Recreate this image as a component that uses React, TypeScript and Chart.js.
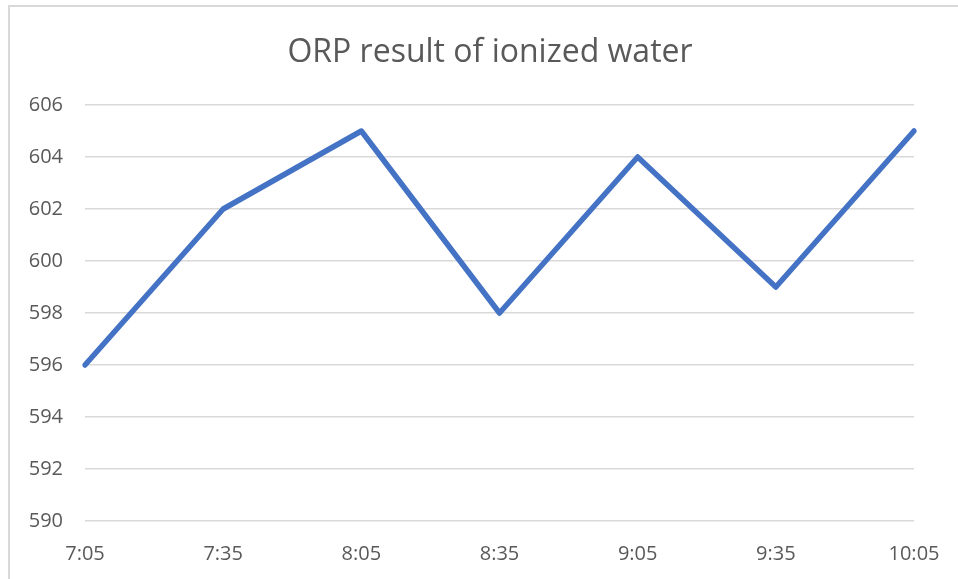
import React, { useEffect, useRef } from "react";
import { Chart, registerables } from "chart.js";

Chart.register(...registerables);

const TITLE = "ORP result of ionized water";
const categories = ["7:05", "7:35", "8:05", "8:35", "9:05", "9:35", "10:05"];
const orpValues = [596, 602, 605, 598, 604, 599, 605];
const yMin = 590;
const yMax = 606;
const yStep = 2;

const FONT = "'Open Sans', 'Liberation Sans', sans-serif";
const TEXT_COLOR = "#595959";

const framePlugin = {
  id: "frameAndTitle",
  beforeDraw(chart: any) {
    const ctx = chart.ctx;
    ctx.save();
    ctx.fillStyle = "#ffffff";
    ctx.fillRect(0, 0, chart.width, chart.height);
    ctx.strokeStyle = "#d9d9d9";
    ctx.lineWidth = 2;
    ctx.beginPath();
    ctx.moveTo(9, chart.height + 2);
    ctx.lineTo(9, 6);
    ctx.lineTo(chart.width + 2, 6);
    ctx.stroke();
    ctx.restore();
  },
  afterDraw(chart: any) {
    const ctx = chart.ctx;
    ctx.save();
    ctx.fillStyle = TEXT_COLOR;
    ctx.font = `32px ${FONT}`;
    ctx.textAlign = "center";
    ctx.textBaseline = "alphabetic";
    ctx.fillText(TITLE, 490, 62);
    ctx.restore();
  },
};

export default function App() {
  const ref = useRef<HTMLCanvasElement>(null);
  useEffect(() => {
    document.body.style.margin = "0";
    const chart = new Chart(ref.current!, {
      type: "line",
      data: {
        labels: categories,
        datasets: [
          {
            label: "ORP",
            data: orpValues,
            borderColor: "#4472C4",
            borderWidth: 5.5,
            borderJoinStyle: "round",
            borderCapStyle: "round",
            pointRadius: 0,
            tension: 0,
            fill: false,
          },
        ],
      },
      options: {
        responsive: false,
        animation: false,
        layout: { padding: { left: 0, right: 44, top: 105, bottom: 0 } },
        plugins: {
          legend: { display: false },
          title: { display: false },
          tooltip: { enabled: false },
        },
        scales: {
          x: {
            offset: false,
            afterFit(scale: any) {
              scale.height = 58;
            },
            grid: { display: false },
            border: { display: false },
            ticks: {
              color: TEXT_COLOR,
              font: { family: FONT, size: 20 },
              padding: 13,
              maxRotation: 0,
              autoSkip: false,
            },
          },
          y: {
            min: yMin,
            max: yMax,
            afterFit(scale: any) {
              scale.width = 85;
            },
            grid: { color: "#d9d9d9", lineWidth: 1.5, drawTicks: false },
            border: { display: false },
            ticks: {
              stepSize: yStep,
              color: TEXT_COLOR,
              font: { family: FONT, size: 20 },
              padding: 22,
            },
          },
        },
      },
      plugins: [framePlugin],
    });
    return () => chart.destroy();
  }, []);
  return <canvas ref={ref} width={958} height={579} style={{ display: "block" }} />;
}
